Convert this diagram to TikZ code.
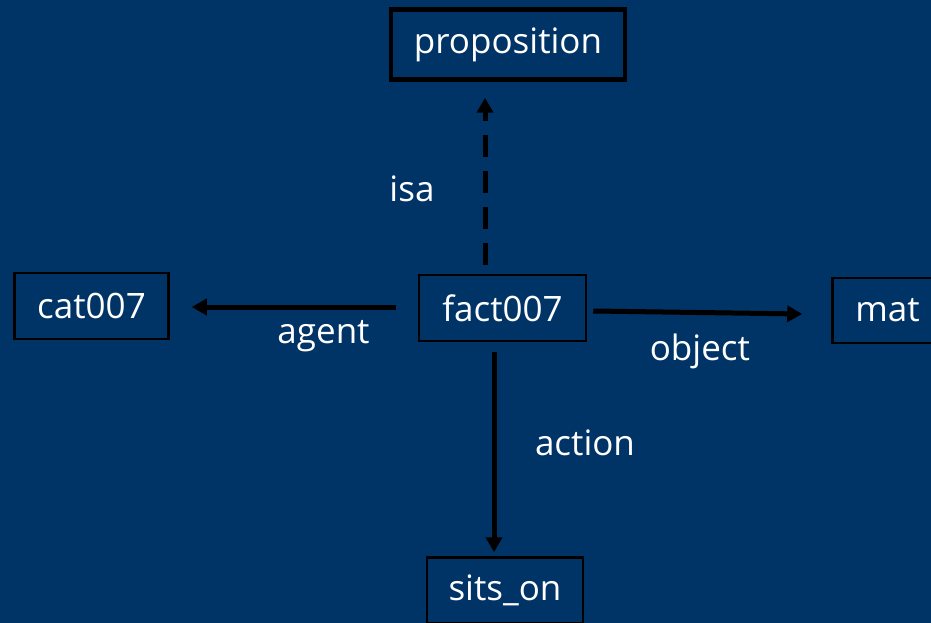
\documentclass[tikz,border=0pt]{standalone}
\usepackage{fontspec}
\setmainfont{Open Sans}
\usetikzlibrary{arrows.meta,positioning}
\definecolor{slidebg}{RGB}{0,51,102}

\begin{document}
\begin{tikzpicture}[x=1pt,y=1pt,>={Triangle[length=15pt,width=16pt]},
        every node/.style={text=white,font=\fontsize{35}{40}\selectfont},
        main node/.style={draw=black,line width=2.5pt,minimum height=66pt,inner sep=0pt},
        link/.style={->,draw=black,line width=5pt},
        lbl/.style={inner sep=0pt}]
        \fill[slidebg] (0,0) rectangle (931,-623);
        \clip (0,0) rectangle (931,-623);
        \node[main node,minimum width=167pt] (fact) at (502.5,-308) {fact007};
        \node[main node,line width=4.5pt,minimum width=234pt,minimum height=70pt] (prop) [above=192pt of fact,xshift=5.5pt] {proposition};
        \node[main node,minimum width=154pt] (cat) [left=248pt of fact,yshift=2pt] {cat007};
        \node[main node,minimum width=110pt,minimum height=65pt] (mat) [right=244pt of fact,yshift=-2.5pt] {mat};
        \node[main node,minimum width=156pt] (sits) [below=214pt of fact,xshift=2.5pt] {sits\_on};

          \draw[link,dash pattern=on 22pt off 14pt] ([xshift=-17.5pt,yshift=9pt]fact.north) -- node[lbl,pos=.456,xshift=-73pt]{isa} ([xshift=-23pt,yshift=-16pt]prop.south);
          \draw[link] ([xshift=-22pt,yshift=1pt]fact.west) -- node[lbl,pos=.354,yshift=-29pt]{agent} ([xshift=22pt,yshift=-1pt]cat.east);
          \draw[link] ([xshift=6pt,yshift=-3pt]fact.east) -- node[lbl,pos=.51,yshift=-39pt]{object} ([xshift=-29pt,yshift=-3.5pt]mat.west);
          \draw[link] ([xshift=-8.5pt,yshift=-10pt]fact.south) -- node[lbl,pos=.455,xshift=91pt]{action} ([xshift=-11pt,yshift=4pt]sits.north);

\end{tikzpicture}
\end{document}
